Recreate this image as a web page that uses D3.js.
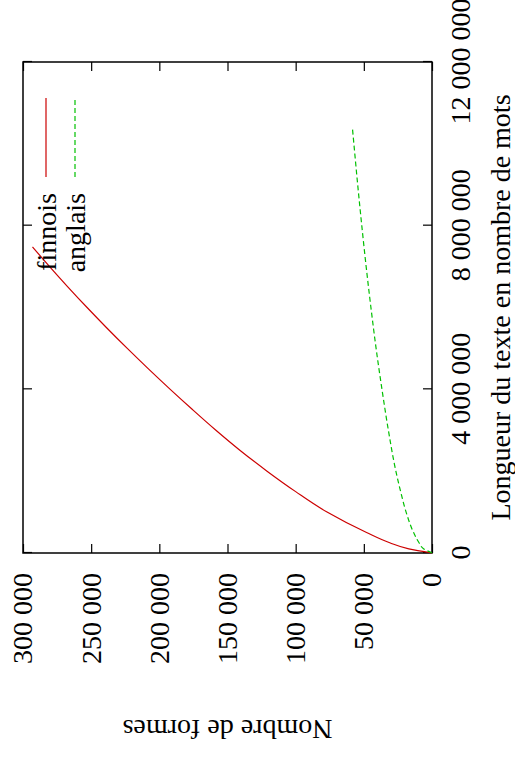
<!DOCTYPE html>
<html>
<head>
<meta charset="utf-8">
<script src="https://cdn.jsdelivr.net/npm/d3@7"></script>
<style>
  body { margin: 0; background: #fff; }
  svg { display: block; }
</style>
</head>
<body>
<div class="canvas"></div>
<script>
// values: words (millions) -> forms (thousands)
const finnoisWords = [0, 0.1, 0.25, 0.5, 1, 1.5, 2, 2.5, 3, 3.5, 4, 4.5, 5, 5.5, 6, 6.5, 7, 7.48];
const finnoisForms = [0, 17, 31, 48, 77, 100, 121, 140.5, 158.5, 175.5, 192, 208, 223.5, 238.5, 253, 267, 280.5, 293];
const anglaisWords = [0, 0.1, 0.25, 0.5, 1, 1.5, 2, 3, 4, 5, 6, 7, 8, 9, 10, 10.36];
const anglaisForms = [0, 6, 9.5, 13.5, 19, 23, 26.5, 32, 36.7, 41, 44.8, 48.3, 51.5, 54.5, 57.3, 58.3];
const xTicks = [0, 4e6, 8e6, 12e6];
const yTicks = [0, 50000, 100000, 150000, 200000, 250000, 300000];
const seriesNames = ['finnois', 'anglais'];

const fontFam = '"Liberation Serif", "DejaVu Serif", serif';
const fs = 28;

const svg = d3.select('.canvas').append('svg')
    .attr('width', 515)
    .attr('height', 758);

// the plot is drawn landscape (758 x 515) then turned a quarter to the left
const g = svg.append('g')
    .attr('transform', 'translate(0,758) rotate(-90)');

const x = d3.scaleLinear().domain([0, 12e6]).range([205, 696]);
const y = d3.scaleLinear().domain([0, 300000]).range([432, 23]);

const loc = d3.formatLocale({decimal: ',', thousands: ' ', grouping: [3], currency: ['', '']});
const fmt = loc.format(',d');

function styleAxis(sel) {
  sel.select('.domain').remove();
  sel.selectAll('line').attr('stroke', '#000').attr('stroke-width', 1.2);
  sel.attr('font-family', fontFam).attr('font-size', fs);
  sel.selectAll('text').attr('fill', '#000');
}

g.append('g').attr('transform', 'translate(0,432)')
    .call(d3.axisBottom(x).tickValues(xTicks).tickSizeInner(-9).tickSizeOuter(0).tickPadding(18).tickFormat(fmt))
    .call(styleAxis);
g.append('g').attr('transform', 'translate(0,23)')
    .call(d3.axisTop(x).tickValues(xTicks).tickSizeInner(-9).tickSizeOuter(0).tickFormat(''))
    .call(styleAxis);
g.append('g').attr('transform', 'translate(205,0)')
    .call(d3.axisLeft(y).tickValues(yTicks).tickSizeInner(-9).tickSizeOuter(0).tickPadding(20).tickFormat(fmt))
    .call(styleAxis);
g.append('g').attr('transform', 'translate(696,0)')
    .call(d3.axisRight(y).tickValues(yTicks).tickSizeInner(-9).tickSizeOuter(0).tickFormat(''))
    .call(styleAxis);

// frame
g.append('rect')
    .attr('x', x(0)).attr('y', y(300000))
    .attr('width', x(12e6) - x(0))
    .attr('height', y(0) - y(300000))
    .attr('fill', 'none')
    .attr('stroke', '#000')
    .attr('stroke-width', 1.5);

const line = d3.line()
    .x(d => x(d[0] * 1e6))
    .y(d => y(d[1] * 1000))
    .curve(d3.curveMonotoneX);

g.append('path')
    .datum(d3.zip(finnoisWords, finnoisForms))
    .attr('d', line)
    .attr('fill', 'none')
    .attr('stroke', '#cc0000')
    .attr('stroke-width', 1.2);

g.append('path')
    .datum(d3.zip(anglaisWords, anglaisForms))
    .attr('d', line)
    .attr('fill', 'none')
    .attr('stroke', '#00c000')
    .attr('stroke-width', 1.2)
    .attr('stroke-dasharray', '5,3');

// legend, top right of the unturned plot
const legColors = ['#cc0000', '#00c000'];
const legDash = [null, '5,3'];
seriesNames.forEach((name, i) => {
  const ly = 46 + i * 29;
  g.append('text')
      .attr('x', 565).attr('y', ly)
      .attr('text-anchor', 'end')
      .attr('dominant-baseline', 'central')
      .attr('font-family', fontFam).attr('font-size', fs)
      .text(name);
  g.append('line')
      .attr('x1', 581).attr('x2', 660)
      .attr('y1', ly).attr('y2', ly)
      .attr('stroke', legColors[i])
      .attr('stroke-width', 1.2)
      .attr('stroke-dasharray', legDash[i]);
});

// axis titles
g.append('text')
    .attr('x', (x(0) + x(12e6)) / 2).attr('y', 510)
    .attr('text-anchor', 'middle')
    .attr('font-family', fontFam).attr('font-size', fs)
    .text('Longueur du texte en nombre de mots');

g.append('text')
    .attr('transform', `translate(38,${(y(0) + y(300000)) / 2}) rotate(-90)`)
    .attr('text-anchor', 'middle')
    .attr('font-family', fontFam).attr('font-size', fs)
    .text('Nombre de formes');
</script>
</body>
</html>
